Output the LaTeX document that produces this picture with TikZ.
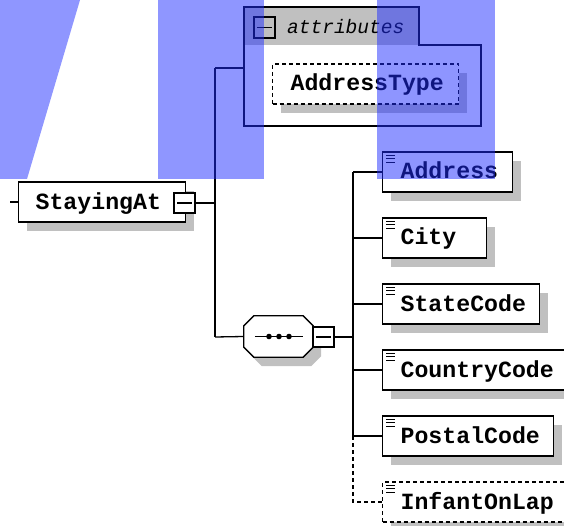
\documentclass[tikz,border=0pt]{standalone}
\usepackage{fontspec}
\newfontfamily\xmono{Liberation Mono}
\usetikzlibrary{calc,shadows}
\definecolor{shadowgray}{RGB}{192,192,192}
\definecolor{tabgray}{RGB}{192,192,192}
\definecolor{overlayblue}{RGB}{31,45,255}
\tikzset{
  ln/.style={line width=1.3pt, draw=black},
  shad/.style={drop shadow={shadow xshift=8pt, shadow yshift=-9pt, fill=shadowgray, opacity=1}},
  elem/.style={ln, fill=white, shad, minimum height=40pt, inner xsep=0pt, inner ysep=0pt,
    text height=14pt, text depth=0pt, align=left, anchor=west,
    font=\xmono\bfseries\fontsize{23.2}{26}\selectfont},
  optdash/.style={dash pattern=on 4pt off 3pt},
  minusbox/.style={ln, fill=white, minimum width=21pt, minimum height=20pt, inner sep=0pt},
  overlay/.style={fill=overlayblue, fill opacity=0.5},
}
\newcommand\elemicon[1]{%
  \foreach \d in {4,7.5,11} {\draw[line width=1pt] ($(#1.north west)+(4,\d)$) -- ++(9,0);}}
\begin{document}
\begin{tikzpicture}[x=1pt,y=-1pt]
\path[use as bounding box] (0,0) rectangle (564,526);
\clip (0,0) rectangle (564,526);

% attributes group
\node[minimum width=237pt, minimum height=119pt, inner sep=0pt, anchor=north west] (attrs) at (244,7) {};
\fill[tabgray] (244,7) rectangle (419,45);
\draw[ln] (244,7) -- (419,7) -- (419,45) -- (481,45) -- (481,126) -- (244,126) -- cycle;
\node[ln, minimum width=21pt, minimum height=21pt, inner sep=0pt] (tabminus) at (264.5,27.5) {};
\draw[ln] ($(tabminus.west)+(4,0)$) -- ($(tabminus.east)+(-4,0)$);
\node[font=\xmono\itshape\fontsize{19.5}{22}\selectfont, anchor=base west, inner sep=0pt] (attrlabel) at (287,34) {attributes};
\node[elem, optdash, text width=186pt] (addrtype) at (272,84) {\hspace*{18pt}AddressType};

% root element
\node[elem, text width=167pt, text height=15pt] (staying) at (18,202) {\hspace*{17pt}StayingAt};
\node[minusbox] (m1) at (184.5,203) {};
\draw[ln] ($(m1.west)+(4,0)$) -- ($(m1.east)+(-4,0)$);

% sequence compositor
\node[minimum width=69pt, minimum height=41pt, inner sep=0pt] (seq) at (278.5,336.5) {};
\draw[ln, fill=white, shad] ($(seq.north west)+(10,0)$) -- ($(seq.north east)+(-10,0)$)
  -- ($(seq.north east)+(0,10)$) -- ($(seq.south east)+(0,-10)$)
  -- ($(seq.south east)+(-10,0)$) -- ($(seq.south west)+(10,0)$)
  -- ($(seq.south west)+(0,-10)$) -- ($(seq.north west)+(0,10)$) -- cycle;
\draw[ln] ($(seq.west)+(11,0)$) -- ($(seq.east)+(-10,0)$);
\foreach \dx in {-9.5,0.5,10.5} {\fill ($(seq.center)+(\dx,0)$) circle (2.8pt);}
\node[minusbox] (m2) at (323.5,337) {};
\draw[ln] ($(m2.west)+(4,0)$) -- ($(m2.east)+(-4,0)$);

% child elements
\node[elem, text width=130pt] (address) at (382,172) {\hspace*{18pt}Address};
\node[elem, text width=104pt] (city) at (382,238) {\hspace*{18pt}City};
\node[elem, text width=157pt] (state) at (382,304) {\hspace*{18pt}StateCode};
\node[elem, text width=186pt] (country) at (382,370) {\hspace*{18pt}CountryCode};
\node[elem, text width=171pt] (postal) at (382,436) {\hspace*{18pt}PostalCode};
\node[elem, optdash, text width=186pt] (infant) at (382,502) {\hspace*{18pt}InfantOnLap};
\foreach \n in {address,city,state,country,postal,infant} {\elemicon{\n}}

% connectors
\coordinate (in) at (10,202);
\coordinate (t1) at (215,68);
\coordinate (t2) at (215,337);
\coordinate (s1) at (353,172);
\draw[ln] (in) -- (staying.west);
\draw[ln] (m1.east) -- (m1.east -| t1);
\draw[ln] (t1) -- (t2);
\draw[ln] (t1) -- (t1 -| attrs.west);
\draw[ln] (t2) -- (seq.west);
\draw[ln] (m2.east) -- (m2.east -| s1);
\draw[ln] (address.west -| s1) -- (postal.west -| s1);
\foreach \n in {address,city,state,country,postal} {\draw[ln] (\n.west -| s1) -- (\n.west);}
\draw[ln, optdash] (postal.west -| s1) -- (infant.west -| s1) -- (infant.west);

% translucent overlays
\fill[overlay] (0,0) -- (80,0) -- (27,179) -- (0,179) -- cycle;
\fill[overlay] (158,0) rectangle (264,179);
\fill[overlay] (377,0) rectangle (495,179);
\end{tikzpicture}
\end{document}
